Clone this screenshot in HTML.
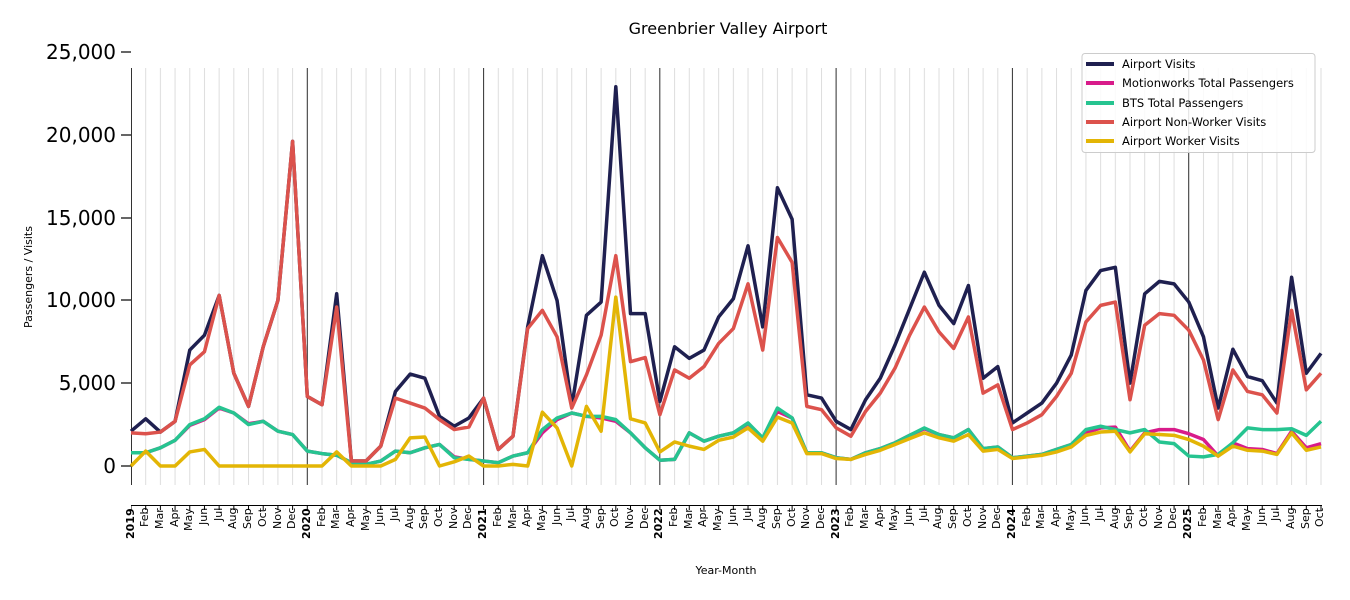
<!DOCTYPE html>
<html><head><meta charset="utf-8"><style>
body{margin:0;background:#fff;width:1350px;height:600px;overflow:hidden;font-family:"Liberation Sans","DejaVu Sans",sans-serif;position:relative}
.m{position:absolute;left:123.65px;top:508px;display:flex}
.m span{display:block;width:14.69px;height:52px;writing-mode:vertical-rl;transform:rotate(180deg);text-align:right;font-size:11px;line-height:14.69px;color:#000;font-family:"DejaVu Sans",sans-serif}
.m b{font-weight:bold}
</style></head><body>
<svg width="1350" height="600" style="position:absolute;left:0;top:0" font-family="DejaVu Sans, sans-serif">
<defs>
<pattern id="g" patternUnits="userSpaceOnUse" x="130.5" y="0" width="14.6914" height="600"><rect x="0" y="0" width="1" height="600" fill="#dddddd"/></pattern>
<pattern id="t" patternUnits="userSpaceOnUse" x="130.5" y="0" width="14.6914" height="600"><rect x="0" y="0" width="1" height="600" fill="#000"/></pattern>
</defs>
<text x="728" y="34" font-size="16" text-anchor="middle">Greenbrier Valley Airport</text>
<rect x="131" y="68" width="1191" height="417" fill="url(#g)"/>
<g stroke="#333" stroke-width="1">
<line x1="131.5" y1="68" x2="131.5" y2="485"/><line x1="307.3" y1="68" x2="307.3" y2="485"/><line x1="483.6" y1="68" x2="483.6" y2="485"/><line x1="659.8" y1="68" x2="659.8" y2="485"/><line x1="836.1" y1="68" x2="836.1" y2="485"/><line x1="1012.4" y1="68" x2="1012.4" y2="485"/><line x1="1188.7" y1="68" x2="1188.7" y2="485"/>
</g>
<line x1="131" y1="505.5" x2="1322" y2="505.5" stroke="#000" stroke-width="1"/>
<rect x="131" y="505" width="1191" height="5" fill="url(#t)"/>
<g stroke="#000" stroke-width="1.2"><line x1="121" y1="52" x2="131" y2="52"/><line x1="121" y1="135" x2="131" y2="135"/><line x1="121" y1="218" x2="131" y2="218"/><line x1="121" y1="300" x2="131" y2="300"/><line x1="121" y1="383" x2="131" y2="383"/><line x1="121" y1="466" x2="131" y2="466"/></g>
<g font-size="20" text-anchor="end"><text x="116" y="59">25,000</text><text x="116" y="142">20,000</text><text x="116" y="225">15,000</text><text x="116" y="307">10,000</text><text x="116" y="390">5,000</text><text x="116" y="473">0</text></g>
<text transform="translate(32,277) rotate(-90)" font-size="11" text-anchor="middle">Passengers / Visits</text>
<text x="726" y="574" font-size="11" text-anchor="middle">Year-Month</text>
<g transform="translate(131,466) scale(14.6914,-16.56)" fill="none" stroke-width="3.5" stroke-linejoin="round">
<polyline vector-effect="non-scaling-stroke" stroke="#1f2050" points="0,2.1 1,2.85 2,2.05 3,2.7 4,7.0 5,7.9 6,10.3 7,5.6 8,3.6 9,7.2 10,10.0 11,19.6 12,4.2 13,3.7 14,10.4 15,0.3 16,0.3 17,1.2 18,4.5 19,5.55 20,5.3 21,3.0 22,2.4 23,2.9 24,4.1 25,1.0 26,1.8 27,8.4 28,12.7 29,10.0 30,3.6 31,9.1 32,9.9 33,22.9 34,9.2 35,9.2 36,3.9 37,7.2 38,6.5 39,7.0 40,9.0 41,10.1 42,13.3 43,8.4 44,16.8 45,14.9 46,4.3 47,4.1 48,2.7 49,2.2 50,4.0 51,5.3 52,7.3 53,9.5 54,11.7 55,9.7 56,8.6 57,10.9 58,5.3 59,6.0 60,2.6 61,3.2 62,3.8 63,5.0 64,6.7 65,10.6 66,11.8 67,12.0 68,5.0 69,10.4 70,11.15 71,11.0 72,9.9 73,7.8 74,3.5 75,7.05 76,5.4 77,5.15 78,3.8 79,11.4 80,5.6 81,6.8"/>
<polyline vector-effect="non-scaling-stroke" stroke="#d81b8a" points="0,0.8 1,0.8 2,1.1 3,1.55 4,2.45 5,2.8 6,3.5 7,3.2 8,2.55 9,2.7 10,2.1 11,1.9 12,0.9 13,0.75 14,0.65 15,0.2 16,0.1 17,0.3 18,0.9 19,0.8 20,1.1 21,1.3 22,0.55 23,0.4 24,0.3 25,0.2 26,0.6 27,0.8 28,2.0 29,2.8 30,3.2 31,3.0 32,2.9 33,2.7 34,2.0 35,1.1 36,0.35 37,0.4 38,2.0 39,1.5 40,1.8 41,2.0 42,2.55 43,1.65 44,3.3 45,2.9 46,0.8 47,0.8 48,0.5 49,0.4 50,0.8 51,1.05 52,1.4 53,1.85 54,2.25 55,1.9 56,1.7 57,2.2 58,1.05 59,1.15 60,0.5 61,0.6 62,0.7 63,1.0 64,1.3 65,2.0 66,2.3 67,2.35 68,0.9 69,2.0 70,2.2 71,2.2 72,1.95 73,1.6 74,0.6 75,1.4 76,1.05 77,1.0 78,0.75 79,2.1 80,1.1 81,1.35"/>
<polyline vector-effect="non-scaling-stroke" stroke="#26c490" points="0,0.8 1,0.8 2,1.1 3,1.55 4,2.5 5,2.85 6,3.55 7,3.2 8,2.5 9,2.7 10,2.1 11,1.9 12,0.9 13,0.75 14,0.65 15,0.2 16,0.1 17,0.3 18,0.9 19,0.8 20,1.1 21,1.3 22,0.5 23,0.4 24,0.3 25,0.2 26,0.6 27,0.8 28,2.2 29,2.9 30,3.2 31,3.0 32,3.0 33,2.8 34,2.0 35,1.1 36,0.35 37,0.4 38,2.0 39,1.5 40,1.8 41,2.0 42,2.6 43,1.7 44,3.5 45,2.9 46,0.8 47,0.8 48,0.5 49,0.4 50,0.8 51,1.05 52,1.4 53,1.85 54,2.3 55,1.9 56,1.7 57,2.2 58,1.05 59,1.15 60,0.5 61,0.6 62,0.7 63,1.0 64,1.3 65,2.2 66,2.4 67,2.2 68,2.0 69,2.2 70,1.45 71,1.35 72,0.6 73,0.55 74,0.7 75,1.4 76,2.3 77,2.2 78,2.2 79,2.25 80,1.85 81,2.7"/>
<polyline vector-effect="non-scaling-stroke" stroke="#dc524c" points="0,2.0 1,1.95 2,2.05 3,2.7 4,6.1 5,6.9 6,10.3 7,5.6 8,3.6 9,7.2 10,10.0 11,19.6 12,4.2 13,3.7 14,9.6 15,0.3 16,0.3 17,1.2 18,4.1 19,3.8 20,3.5 21,2.8 22,2.2 23,2.35 24,4.1 25,1.0 26,1.8 27,8.3 28,9.4 29,7.8 30,3.5 31,5.5 32,7.9 33,12.7 34,6.3 35,6.55 36,3.1 37,5.8 38,5.3 39,6.0 40,7.4 41,8.3 42,11.0 43,7.0 44,13.8 45,12.3 46,3.6 47,3.4 48,2.3 49,1.8 50,3.3 51,4.4 52,5.9 53,7.9 54,9.6 55,8.1 56,7.1 57,9.0 58,4.4 59,4.9 60,2.2 61,2.6 62,3.1 63,4.2 64,5.6 65,8.7 66,9.7 67,9.9 68,4.0 69,8.5 70,9.2 71,9.1 72,8.2 73,6.4 74,2.8 75,5.8 76,4.5 77,4.3 78,3.2 79,9.4 80,4.6 81,5.6"/>
<polyline vector-effect="non-scaling-stroke" stroke="#e3b505" points="0,0 1,0.9 2,0 3,0 4,0.85 5,1.0 6,0 7,0 8,0 9,0 10,0 11,0 12,0 13,0 14,0.85 15,0 16,0 17,0 18,0.4 19,1.7 20,1.75 21,0 22,0.25 23,0.6 24,0 25,0 26,0.1 27,0 28,3.25 29,2.3 30,0 31,3.6 32,2.1 33,10.2 34,2.85 35,2.6 36,0.85 37,1.45 38,1.2 39,1.0 40,1.55 41,1.75 42,2.3 43,1.5 44,2.95 45,2.6 46,0.75 47,0.75 48,0.45 49,0.4 50,0.7 51,0.95 52,1.3 53,1.65 54,2.0 55,1.7 56,1.5 57,1.9 58,0.9 59,1.0 60,0.45 61,0.55 62,0.65 63,0.85 64,1.15 65,1.85 66,2.05 67,2.1 68,0.85 69,1.95 70,1.9 71,1.85 72,1.6 73,1.2 74,0.6 75,1.2 76,0.95 77,0.9 78,0.7 79,2.0 80,0.95 81,1.15"/>
</g>
<rect x="1082" y="53.5" width="233" height="99" rx="3" fill="#fff" fill-opacity="0.85" stroke="#cccccc" stroke-width="1"/>
<g stroke-width="4"><line x1="1086" y1="64" x2="1114" y2="64" stroke="#1f2050"/><line x1="1086" y1="83" x2="1114" y2="83" stroke="#d81b8a"/><line x1="1086" y1="103" x2="1114" y2="103" stroke="#26c490"/><line x1="1086" y1="122" x2="1114" y2="122" stroke="#dc524c"/><line x1="1086" y1="141" x2="1114" y2="141" stroke="#e3b505"/></g>
<g font-size="11.5"><text x="1122" y="68">Airport Visits</text><text x="1122" y="87">Motionworks Total Passengers</text><text x="1122" y="107">BTS Total Passengers</text><text x="1122" y="126">Airport Non-Worker Visits</text><text x="1122" y="145">Airport Worker Visits</text></g>
</svg>
<div class="m"><span><b>2019</b></span><span>Feb</span><span>Mar</span><span>Apr</span><span>May</span><span>Jun</span><span>Jul</span><span>Aug</span><span>Sep</span><span>Oct</span><span>Nov</span><span>Dec</span><span><b>2020</b></span><span>Feb</span><span>Mar</span><span>Apr</span><span>May</span><span>Jun</span><span>Jul</span><span>Aug</span><span>Sep</span><span>Oct</span><span>Nov</span><span>Dec</span><span><b>2021</b></span><span>Feb</span><span>Mar</span><span>Apr</span><span>May</span><span>Jun</span><span>Jul</span><span>Aug</span><span>Sep</span><span>Oct</span><span>Nov</span><span>Dec</span><span><b>2022</b></span><span>Feb</span><span>Mar</span><span>Apr</span><span>May</span><span>Jun</span><span>Jul</span><span>Aug</span><span>Sep</span><span>Oct</span><span>Nov</span><span>Dec</span><span><b>2023</b></span><span>Feb</span><span>Mar</span><span>Apr</span><span>May</span><span>Jun</span><span>Jul</span><span>Aug</span><span>Sep</span><span>Oct</span><span>Nov</span><span>Dec</span><span><b>2024</b></span><span>Feb</span><span>Mar</span><span>Apr</span><span>May</span><span>Jun</span><span>Jul</span><span>Aug</span><span>Sep</span><span>Oct</span><span>Nov</span><span>Dec</span><span><b>2025</b></span><span>Feb</span><span>Mar</span><span>Apr</span><span>May</span><span>Jun</span><span>Jul</span><span>Aug</span><span>Sep</span><span>Oct</span></div>
</body></html>
